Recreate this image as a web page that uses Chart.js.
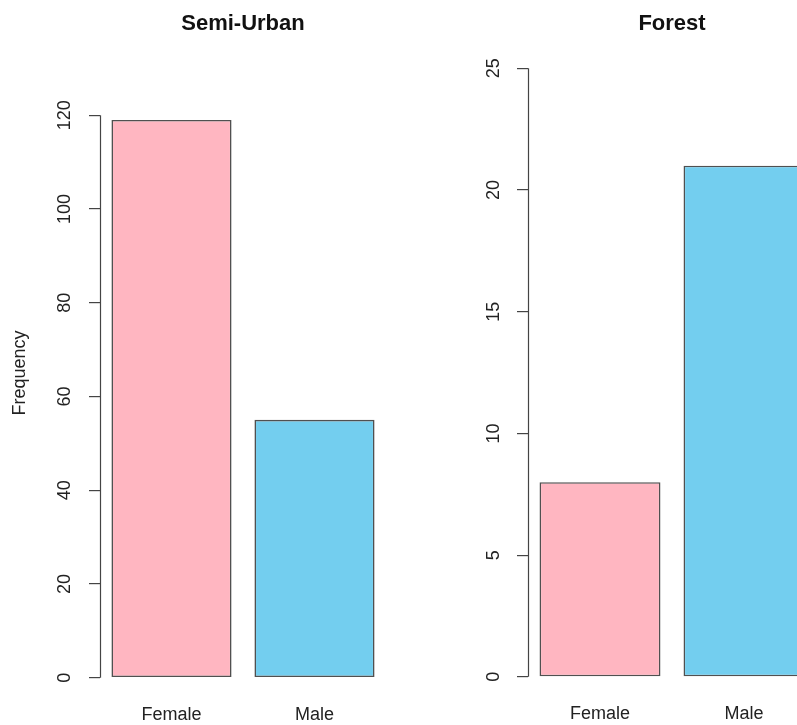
<!DOCTYPE html>
<html>
<head>
<meta charset="utf-8">
<script src="https://cdn.jsdelivr.net/npm/chart.js@4/dist/chart.umd.min.js"></script>
<style>
  html, body { margin: 0; padding: 0; width: 797px; height: 725px; overflow: hidden; background: #fff; }
  #semiUrban { position: absolute; left: 0; top: 0; }
  #forest { position: absolute; left: 400px; top: 0; }
</style>
</head>
<body>
<canvas id="semiUrban" width="386" height="725"></canvas>
<canvas id="forest" width="416" height="725"></canvas>
<script>
const categories = ['Female', 'Male'];
const semiUrbanCounts = [119, 55];
const forestCounts = [8, 21];
const semiUrbanTicks = [0, 20, 40, 60, 80, 100, 120];
const forestTicks = [0, 5, 10, 15, 20, 25];
const barColors = ['#FFB6C1', '#73CEEF'];

const family = '"Liberation Sans", Arial, Helvetica, sans-serif';

// R style axis: line only from first to last tick
const axisLine = {
    id: 'axisLine',
    afterDraw(chart) {
        const y = chart.scales.y;
        const t = y.ticks;
        const ctx = chart.ctx;
        const x = Math.round(chart.chartArea.left) + 0.5;
        ctx.save();
        ctx.strokeStyle = '#444';
        ctx.lineWidth = 1.2;
        ctx.beginPath();
        ctx.moveTo(x, y.getPixelForValue(t[0].value));
        ctx.lineTo(x, y.getPixelForValue(t[t.length - 1].value));
        ctx.stroke();
        ctx.restore();
    }
};

function makeChart(id, title, values, ticks, lim, yTitle, yWidth, tickPad) {
    return new Chart(document.getElementById(id), {
        type: 'bar',
        data: {
            labels: categories,
            datasets: [{
                data: values,
                backgroundColor: barColors,
                borderColor: '#505050',
                borderWidth: 1.6,
                borderSkipped: false,
                barPercentage: 0.84,
                categoryPercentage: 1
            }]
        },
        options: {
            responsive: false,
            animation: false,
            layout: { padding: 0 },
            plugins: {
                legend: { display: false },
                tooltip: { enabled: false },
                title: {
                    display: true,
                    text: title,
                    fullSize: false,
                    color: '#111',
                    font: { family: family, size: 22, weight: 'bold' },
                    padding: { top: 10.3, bottom: 7.3 }
                }
            },
            scales: {
                x: {
                    grid: { display: false, drawTicks: false },
                    border: { display: false },
                    ticks: { color: '#222', padding: 2, font: { family: family, size: 18 } },
                    afterFit: s => { s.height = 23; }
                },
                y: {
                    min: -0.04 * lim,
                    max: 1.04 * lim,
                    afterBuildTicks: s => { s.ticks = ticks.map(v => ({ value: v })); },
                    grid: { drawOnChartArea: false, drawTicks: true, tickLength: 11, color: '#444', lineWidth: 1.2 },
                    border: { display: false },
                    ticks: {
                        minRotation: 90,
                        maxRotation: 90,
                        crossAlign: 'center',
                        padding: tickPad,
                        color: '#222',
                        font: { family: family, size: 18 }
                    },
                    title: {
                        display: !!yTitle,
                        text: yTitle,
                        color: '#222',
                        font: { family: family, size: 18 },
                        padding: { top: 9.2, bottom: 0 }
                    },
                    afterFit: s => { s.width = yWidth; }
                }
            }
        },
        plugins: [axisLine]
    });
}

makeChart('semiUrban', 'Semi-Urban', semiUrbanCounts, semiUrbanTicks, 130, 'Frequency', 100, 9);
makeChart('forest', 'Forest', forestCounts, forestTicks, 25, '', 128, 13);
</script>
</body>
</html>
